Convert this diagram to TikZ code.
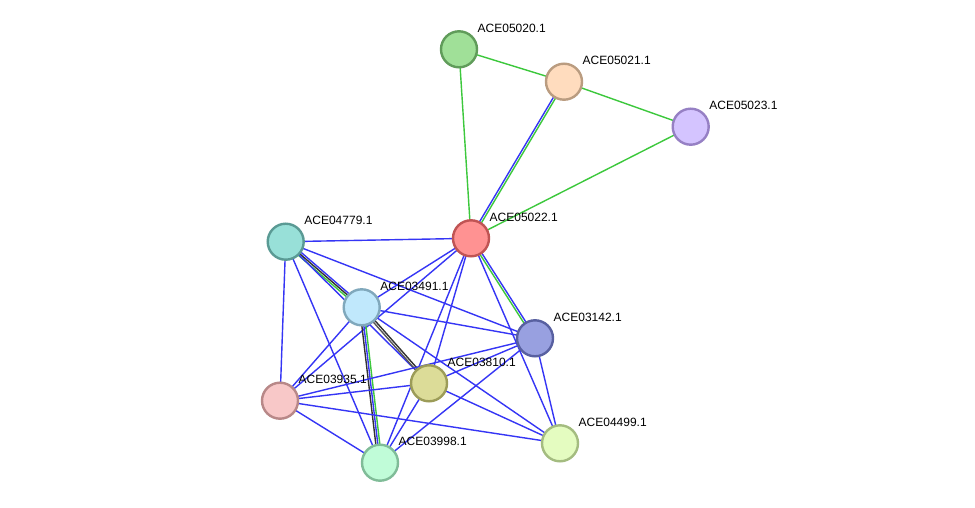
\documentclass[tikz,border=0pt]{standalone}
\usepackage{fontspec}
\setmainfont{Liberation Sans}
\usetikzlibrary{calc,backgrounds}
\definecolor{eblue}{HTML}{3535F5}
\definecolor{egreen}{HTML}{3CC83C}
\definecolor{eblack}{HTML}{333333}
\definecolor{egrey}{HTML}{555555}
\newcommand\pe[4]{\draw[edge,#4] ($(#1)!#3!90:(#2)$) -- ($(#2)!#3!-90:(#1)$);}
\begin{document}
\begin{tikzpicture}[x=1pt,y=-1pt,
  prot/.style={circle,draw,line width=2.4pt,minimum size=36pt,inner sep=0pt},
  lab/.style={anchor=base west,font=\fontsize{12}{14}\selectfont,inner sep=0pt},
  edge/.style={line width=1.4pt}]
\useasboundingbox (0,0) rectangle (975,508);
% nodes
\node[prot,fill={rgb,255:red,160;green,224;blue,152},draw={rgb,255:red,96;green,156;blue,90}] (n05020) at (459,49.3) {};
\node[prot,fill={rgb,255:red,255;green,220;blue,190},draw={rgb,255:red,186;green,156;blue,128}] (n05021) at (564,81.7) {};
\node[prot,fill={rgb,255:red,212;green,196;blue,255},draw={rgb,255:red,150;green,128;blue,196}] (n05023) at (690.7,126.7) {};
\node[prot,fill={rgb,255:red,255;green,146;blue,146},draw={rgb,255:red,192;green,84;blue,84}] (n05022) at (471,238.3) {};
\node[prot,fill={rgb,255:red,152;green,224;blue,216},draw={rgb,255:red,90;green,154;blue,148}] (n04779) at (285.7,241.7) {};
\node[prot,fill={rgb,255:red,192;green,232;blue,252},draw={rgb,255:red,128;green,168;blue,188}] (n03491) at (361.7,307.3) {};
\node[prot,fill={rgb,255:red,152;green,160;blue,224},draw={rgb,255:red,88;green,96;blue,160}] (n03142) at (535,338.3) {};
\node[prot,fill={rgb,255:red,220;green,220;blue,152},draw={rgb,255:red,156;green,156;blue,88}] (n03810) at (429,383.3) {};
\node[prot,fill={rgb,255:red,248;green,200;blue,200},draw={rgb,255:red,184;green,136;blue,136}] (n03935) at (280,400.7) {};
\node[prot,fill={rgb,255:red,228;green,252;blue,192},draw={rgb,255:red,164;green,188;blue,128}] (n04499) at (560,443.3) {};
\node[prot,fill={rgb,255:red,192;green,252;blue,216},draw={rgb,255:red,128;green,188;blue,152}] (n03998) at (380,462.7) {};
% labels
\foreach \n in {05020,05021,05023,05022,04779,03491,03142,03810,03935,04499,03998}{
  \node[lab] (l\n) at ($(n\n)+(18.5,-17)$) {ACE\n.1};
}
\begin{scope}[on background layer]
\fill[white] (0,0) rectangle (975,508);
% green edges
\pe{n05020}{n05021}{0pt}{egreen}
\pe{n05020}{n05022}{0pt}{egreen}
\pe{n05021}{n05023}{0pt}{egreen}
\pe{n05023}{n05022}{0pt}{egreen}
\pe{n05021}{n05022}{1.1pt}{egreen}
\pe{n05021}{n05022}{-1.1pt}{eblue}
% from 05022
\pe{n05022}{n04779}{0pt}{eblue}
\pe{n05022}{n03491}{0pt}{eblue}
\pe{n05022}{n03935}{0pt}{eblue}
\pe{n05022}{n03810}{0pt}{eblue}
\pe{n05022}{n03998}{0pt}{eblue}
\pe{n05022}{n03142}{1.1pt}{eblue}
\pe{n05022}{n03142}{-1.1pt}{egreen}
\pe{n05022}{n04499}{0pt}{eblue}
% from 04779
\pe{n04779}{n03491}{2pt}{eblue}
\pe{n04779}{n03491}{0pt}{eblack}
\pe{n04779}{n03491}{-2pt}{egreen}
\pe{n04779}{n03810}{0pt}{eblue}
\pe{n04779}{n03142}{0pt}{eblue}
\pe{n04779}{n03935}{0pt}{eblue}
\pe{n04779}{n03998}{0pt}{eblue}
% from 03491
\pe{n03491}{n03142}{0pt}{eblue}
\pe{n03491}{n03810}{1.1pt}{eblack}
\pe{n03491}{n03810}{-1.1pt}{egrey}
\pe{n03491}{n03998}{-2pt}{eblack}
\pe{n03491}{n03998}{0pt}{eblue}
\pe{n03491}{n03998}{2pt}{egreen}
\pe{n03491}{n03935}{0pt}{eblue}
\pe{n03491}{n04499}{0pt}{eblue}
% from 03142
\pe{n03142}{n03810}{0pt}{eblue}
\pe{n03142}{n03935}{0pt}{eblue}
\pe{n03142}{n03998}{0pt}{eblue}
\pe{n03142}{n04499}{0pt}{eblue}
% others
\pe{n03810}{n03935}{0pt}{eblue}
\pe{n03810}{n03998}{0pt}{eblue}
\pe{n03810}{n04499}{0pt}{eblue}
\pe{n03935}{n03998}{0pt}{eblue}
\pe{n03935}{n04499}{0pt}{eblue}
\end{scope}
\end{tikzpicture}
\end{document}
